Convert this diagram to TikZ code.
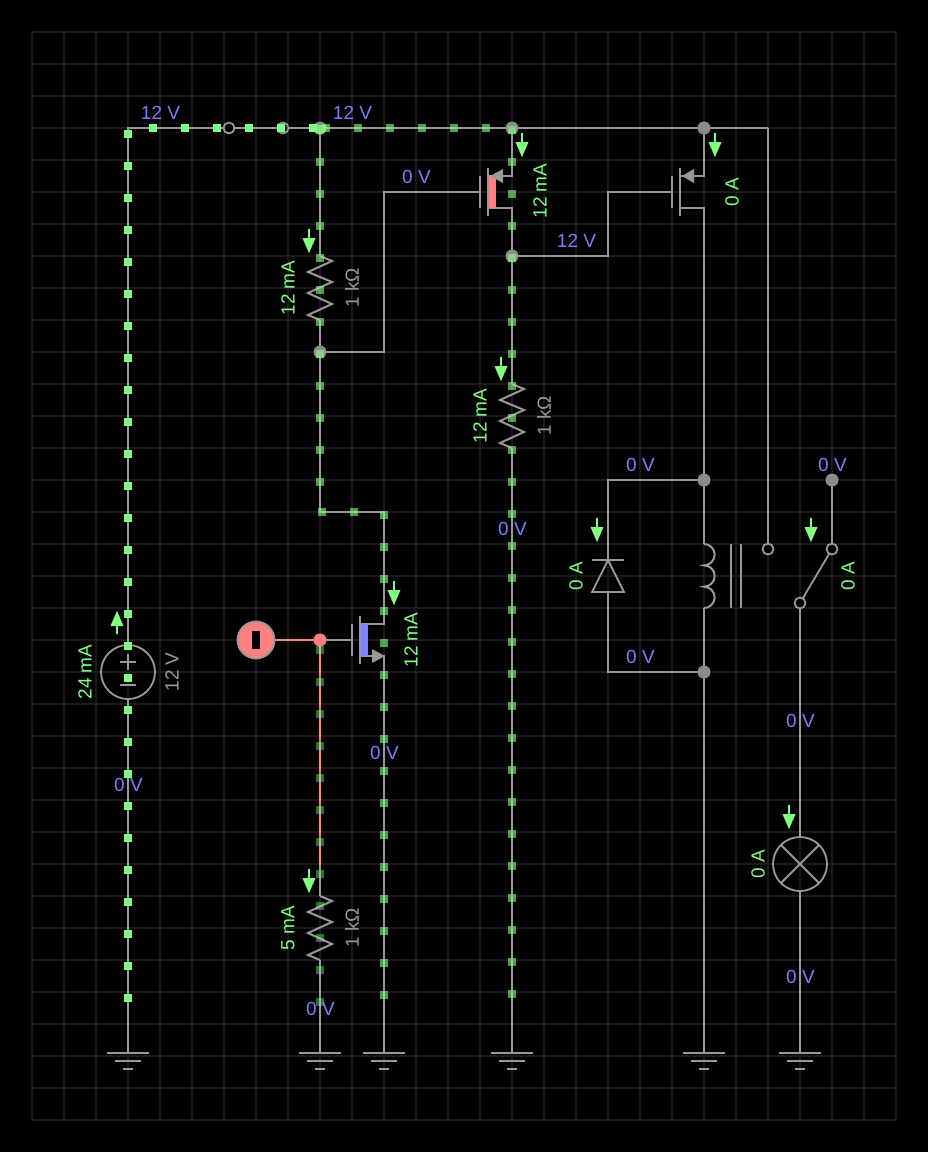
\documentclass[tikz,border=0pt]{standalone}
\usepackage{fontspec}
\setmainfont{Liberation Sans}
\definecolor{gridc}{HTML}{1A1A1A}
\definecolor{wirec}{HTML}{999999}
\definecolor{jointc}{HTML}{8C8C8C}
\definecolor{voltc}{HTML}{7C7CFF}
\definecolor{currc}{HTML}{80FF80}
\definecolor{pinkc}{HTML}{FF8080}
\definecolor{bluec}{HTML}{8080FF}
\tikzset{
  x=1pt,y=-1pt,
  wire/.style={draw=wirec,line width=2pt},
  thinwire/.style={draw=wirec,line width=1.8pt},
  pinkwire/.style={draw=pinkc,line width=2pt},
  joint/.style={circle,fill=jointc,draw=none,minimum size=13pt,inner sep=0pt},
  pinkjoint/.style={circle,fill=pinkc,draw=none,minimum size=13pt,inner sep=0pt},
  post/.style={circle,fill=black,draw=wirec,line width=1.8pt,minimum size=11pt,inner sep=0pt},
  volt/.style={text=voltc,font=\fontsize{19}{19}\selectfont,inner sep=0pt},
  curr/.style={text=currc,font=\fontsize{19}{19}\selectfont,inner sep=0pt,rotate=90},
  val/.style={text=wirec,font=\fontsize{19}{19}\selectfont,inner sep=0pt,rotate=90},
  dotA/.style={fill=currc},
  dotB/.style={fill=currc,opacity=.62},
  dotC/.style={fill=currc,opacity=.42},
}
\newcommand{\flowdown}[2]{%
  \draw[currc,line width=1.8pt] (#1,#2) -- ++(0,11);
  \fill[currc] (#1-6.5,#2+9) -- (#1+6.5,#2+9) -- (#1,#2+24) -- cycle;}
\newcommand{\ground}[1]{%
  \draw[thinwire] (#1-21,1053) -- (#1+21,1053);
  \draw[thinwire] (#1-13,1061) -- (#1+13,1061);
  \draw[thinwire] (#1-5,1069) -- (#1+5,1069);}
\newcommand{\zigzag}[2]{%
  \draw[wire,line join=miter] (#1,#2) -- (#1+12,#2+5) -- (#1-12,#2+16) -- (#1+12,#2+26) -- (#1-12,#2+37) -- (#1+12,#2+48) -- (#1-12,#2+59) -- (#1,#2+64);}
\begin{document}
\begin{tikzpicture}
\useasboundingbox (0,0) rectangle (928,1152);
\fill[black] (0,0) rectangle (928,1152);
% grid
\foreach \gx in {32,64,...,896} \draw[gridc,line width=1.5pt] (\gx,32) -- (\gx,1120);
\foreach \gy in {32,64,...,1120} \draw[gridc,line width=1.5pt] (32,\gy) -- (896,\gy);
% named points
\coordinate (corner) at (128,128);
\coordinate (topend) at (768,128);
\coordinate (srcT) at (128,645);
\coordinate (srcB) at (128,699);
\coordinate (g1) at (128,1053);
\coordinate (g2) at (320,1053);
\coordinate (g3) at (384,1053);
\coordinate (g4) at (512,1053);
\coordinate (g5) at (704,1053);
\coordinate (g6) at (800,1053);
% wires
\draw[wire] (srcT) -- (corner) -- (topend);
\draw[wire] (srcB) -- (g1);
\draw[wire] (320,128) -- (320,256);
\draw[wire] (320,320) -- (320,512) -- (384,512) -- (384,624) -- (360,624);
\draw[wire] (320,352) -- (384,352) -- (384,192) -- (480,192);
\draw[wire] (320,640) -- (352,640);
\draw[wire] (360,656) -- (384,656) -- (g3);
\draw[wire] (320,865) -- (320,896);
\draw[pinkwire] (256,640) -- (320,640) -- (320,865);
\draw[wire] (320,960) -- (g2);
\draw[wire] (512,128) -- (512,176) -- (488,176);
\draw[wire] (488,208) -- (512,208) -- (512,384);
\draw[wire] (512,448) -- (g4);
\draw[wire] (512,256) -- (608,256) -- (608,192) -- (672,192);
\draw[wire] (704,128) -- (704,176) -- (680,176);
\draw[wire] (680,208) -- (704,208) -- (704,544);
\draw[wire] (704,608) -- (g5);
\draw[wire] (608,560) -- (608,480) -- (704,480);
\draw[wire] (608,592) -- (608,672) -- (704,672);
\draw[wire] (768,128) -- (768,549);
\draw[wire] (832,480) -- (832,549);
\draw[wire] (800,603) -- (800,837);
\draw[wire] (800,891) -- (g6);
\draw[thinwire] (800,603) -- (832,549);
% PMOS 1
\fill[pinkc] (489,176) rectangle (496,208);
\draw[wire] (480,176) -- (480,208);
\draw[wire] (488,168) -- (488,216);
\fill[wirec] (490,176) -- (503,169) -- (503,183) -- cycle;
% PMOS 2
\draw[wire] (672,176) -- (672,208);
\draw[wire] (680,168) -- (680,216);
\fill[wirec] (682,176) -- (694,169) -- (694,183) -- cycle;
% NMOS
\fill[bluec] (361,624) rectangle (368,656);
\draw[wire] (352,624) -- (352,656);
\draw[wire] (360,616) -- (360,664);
\fill[wirec] (385,656) -- (372,649) -- (372,663) -- cycle;
% resistors
\zigzag{320}{256}
\zigzag{512}{384}
\zigzag{320}{896}
% source
\draw[thinwire] (128,672) circle[radius=27];
\draw[thinwire] (120,662) -- (136,662);
\draw[thinwire] (128,654) -- (128,670);
\draw[thinwire] (120,685) -- (136,685);
% lamp
\draw[thinwire] (800,864) circle[radius=27];
\draw[thinwire] (781,845) -- (819,883);
\draw[thinwire] (819,845) -- (781,883);
% diode
\draw[thinwire] (592,560) -- (624,560);
\draw[thinwire,line join=miter] (608,560) -- (624,592) -- (592,592) -- cycle;
% coil and core
\draw[wire] (704,544) arc[start angle=-90,end angle=90,radius=10.67] arc[start angle=-90,end angle=90,radius=10.67] arc[start angle=-90,end angle=90,radius=10.67];
\draw[wire] (731,544) -- (731,608);
\draw[wire] (741,544) -- (741,608);
% grounds
\ground{128}\ground{320}\ground{384}\ground{512}\ground{704}\ground{800}
% pink input
\node[circle,fill=pinkc,draw=wirec,line width=1.8pt,minimum size=37pt,inner sep=0pt] (inp) at (256,640) {};
\fill[black] (252,631) rectangle (260,649);
% joints and posts
\node[joint] (j1) at (320,128) {};
\node[joint] (j2) at (512,128) {};
\node[joint] (j3) at (704,128) {};
\node[joint] (j4) at (320,352) {};
\node[joint] (j5) at (512,256) {};
\node[joint] (j6) at (704,480) {};
\node[joint] (j7) at (704,672) {};
\node[joint] (j8) at (832,480) {};
\node[pinkjoint] (j9) at (320,640) {};
\node[post] (p1) at (229,128) {};
\node[post] (p2) at (283,128) {};
\node[post] (p3) at (768,549) {};
\node[post] (p4) at (832,549) {};
\node[post] (p5) at (800,603) {};
% current dots
\foreach \dy in {134,166,...,998} \fill[dotA] (124,\dy-4) rectangle (132,\dy+4);
\foreach \dx in {153,185,217,249,281,313} \fill[dotA] (\dx-4,124) rectangle (\dx+4,132);
\foreach \dx in {326,358,390,422,454,486} \fill[dotB] (\dx-4,124) rectangle (\dx+4,132);
\begin{scope}
  \clip (320,128) circle[radius=6.5];
  \fill[currc,opacity=.75] (312,125) rectangle (328,136);
\end{scope}
\foreach \dy in {162,194,...,482} \fill[dotB] (316,\dy-4) rectangle (324,\dy+4);
\foreach \dx in {322,354} \fill[dotB] (\dx-4,508) rectangle (\dx+4,516);
\foreach \dy in {515,547,...,996} \fill[dotB] (380,\dy-4) rectangle (388,\dy+4);
\foreach \dy in {130,162,...,996} \fill[dotB] (508,\dy-4) rectangle (516,\dy+4);
\foreach \dy in {650,682,...,1004} \fill[dotC] (316,\dy-4) rectangle (324,\dy+4);
% current arrows
\flowdown{309}{229}
\flowdown{501}{357}
\flowdown{309}{869}
\flowdown{522}{133}
\flowdown{715}{133}
\flowdown{394}{581}
\flowdown{597}{518}
\flowdown{811}{518}
\flowdown{789}{805}
\draw[currc,line width=1.8pt] (117,634) -- (117,620);
\fill[currc] (110.5,626) -- (123.5,626) -- (117,611) -- cycle;
% voltage labels
\node[volt] (v1) at (160.5,113) {12 V};
\node[volt] (v2) at (352.5,113) {12 V};
\node[volt] (v3) at (416.5,177) {0 V};
\node[volt] (v4) at (576.5,241) {12 V};
\node[volt] (v5) at (640.5,465) {0 V};
\node[volt] (v6) at (832.5,465) {0 V};
\node[volt] (v7) at (640.5,657) {0 V};
\node[volt] (v8) at (512.5,529) {0 V};
\node[volt] (v9) at (384.5,753) {0 V};
\node[volt] (v10) at (128.5,785) {0 V};
\node[volt] (v11) at (800.5,721) {0 V};
\node[volt] (v12) at (800.5,977) {0 V};
\node[volt] (v13) at (320.5,1009) {0 V};
% current labels
\node[curr] (c1) at (288,288) {12 mA};
\node[curr] (c2) at (480,416) {12 mA};
\node[curr] (c3) at (288,928) {5 mA};
\node[curr] (c4) at (540,191) {12 mA};
\node[curr] (c5) at (732,192) {0 A};
\node[curr] (c6) at (411,640) {12 mA};
\node[curr] (c7) at (576,576) {0 A};
\node[curr] (c8) at (848,576) {0 A};
\node[curr] (c9) at (758,864) {0 A};
\node[curr] (c10) at (85,672) {24 mA};
% values
\node[val] (r1) at (352,288) {1 kΩ};
\node[val] (r2) at (544,416) {1 kΩ};
\node[val] (r3) at (352,928) {1 kΩ};
\node[val] (s1) at (172,672) {12 V};
\end{tikzpicture}
\end{document}
